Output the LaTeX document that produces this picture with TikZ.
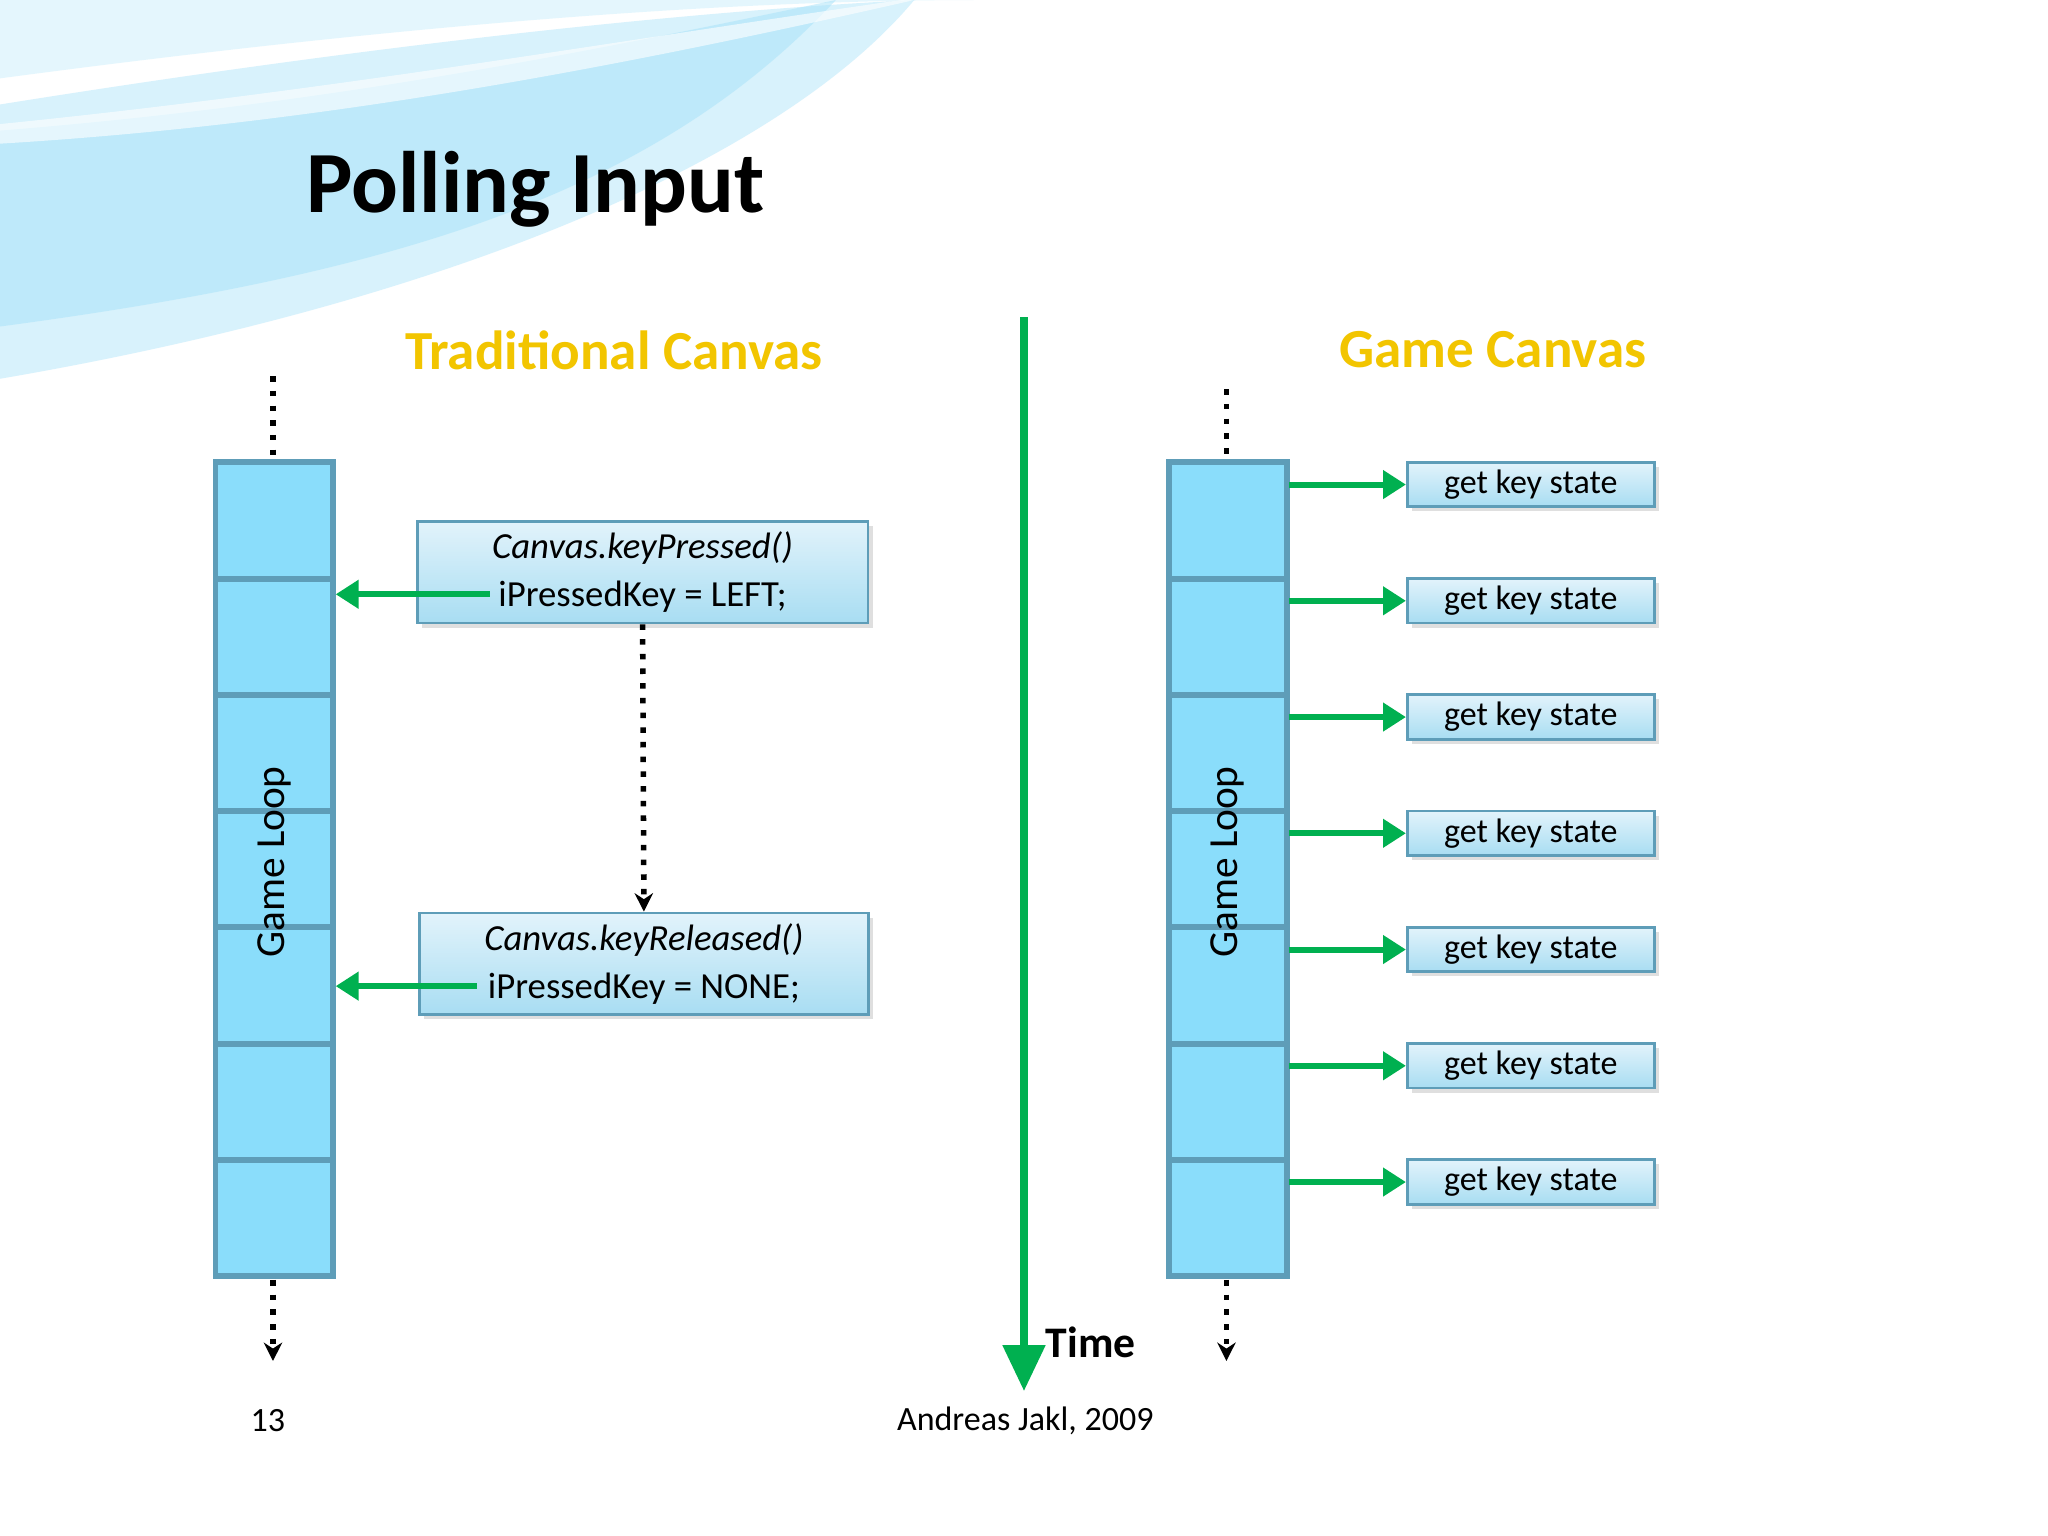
\documentclass[tikz,border=0pt]{standalone}
\usepackage{fontspec}
\setmainfont{Carlito}
\usetikzlibrary{arrows.meta,shadows}
\definecolor{cellfill}{HTML}{8ADDFB}
\definecolor{cellline}{HTML}{5E9DB8}
\definecolor{grn}{HTML}{00B050}
\definecolor{boxtop}{HTML}{E2F3FB}
\definecolor{boxbot}{HTML}{A8DDF2}
\definecolor{gold}{HTML}{F2C500}
\tikzset{
  cell/.style={draw=cellline,line width=1.3pt,fill=cellfill},
  codebox/.style={draw=cellline,line width=0.6pt,top color=boxtop,bottom color=boxbot,drop shadow={opacity=0.25,shadow xshift=1pt,shadow yshift=-1pt}},
  garrow/.style={draw=grn,line width=1.3pt,-{Triangle[length=5pt,width=6pt]}},
  dotarrow/.style={draw=black,line width=1.2pt,dotted,-{Stealth[length=4pt,width=4pt]}},
  dotline/.style={draw=black,line width=1.2pt,dotted},
  heading/.style={font=\bfseries\fontsize{12}{14}\selectfont,text=gold,drop shadow={opacity=0}},
  txt/.style={font=\fontsize{7.4}{9}\selectfont}
}
\begin{document}
\begin{tikzpicture}[x=0.01cm,y=-0.01cm]
\useasboundingbox (0,0) rectangle (1568,1176);
\fill[white] (0,0) rectangle (1568,1176);
% swoosh background
\fill[cyan!15,opacity=0.7] (0,60) .. controls (300,20) and (550,0) .. (750,0) -- (0,0) -- cycle;
\fill[cyan!25,opacity=0.6] (0,80) .. controls (250,40) and (500,10) .. (700,0) .. controls (600,120) and (350,230) .. (0,290) -- cycle;
\fill[cyan!35,opacity=0.5] (0,100) .. controls (250,80) and (450,40) .. (640,0) .. controls (500,150) and (300,210) .. (0,250) -- cycle;
\fill[white,opacity=0.6] (0,95) .. controls (250,70) and (480,30) .. (690,0) -- (700,0) .. controls (480,50) and (250,95) .. (0,110) -- cycle;
\node[font=\bfseries\fontsize{19}{22}\selectfont] (title) at (410,145) {Polling Input};
\node[heading] (h1) at (470,268) {Traditional Canvas};
\node[heading] (h2) at (1143,268) {Game Canvas};
% left column
\foreach \i in {0,...,6}{
  \draw[cell] (165,{354+89*\i}) rectangle (255,{443+89*\i});
  \draw[cell] (895,{354+89*\i}) rectangle (985,{443+89*\i});
}
\node[txt,font=\fontsize{9}{11}\selectfont,rotate=90] (gl1) at (210,660) {Game Loop};
\node[txt,font=\fontsize{9}{11}\selectfont,rotate=90] (gl2) at (940,660) {Game Loop};
\coordinate (t1a) at (209,288); \coordinate (t1b) at (209,352);
\coordinate (b1a) at (209,980); \coordinate (b1b) at (209,1042);
\coordinate (t2a) at (939,298); \coordinate (t2b) at (939,352);
\coordinate (b2a) at (939,980); \coordinate (b2b) at (939,1042);
\draw[dotline] (t1a)--(t1b); \draw[dotarrow] (b1a)--(b1b);
\draw[dotline] (t2a)--(t2b); \draw[dotarrow] (b2a)--(b2b);
% code boxes
\node[codebox,minimum width=345*0.01cm,minimum height=78*0.01cm,inner sep=0pt,align=center,txt,font=\fontsize{8}{10.5}\selectfont] (kp) at (492,438) {\textit{Canvas.keyPressed()}\\iPressedKey = LEFT;};
\node[codebox,minimum width=344*0.01cm,minimum height=78*0.01cm,inner sep=0pt,align=center,txt,font=\fontsize{8}{10.5}\selectfont] (kr) at (493,738) {\textit{Canvas.keyReleased()}\\iPressedKey = NONE;};
\coordinate (l1) at (257,455); \coordinate (s1) at (375,455);
\coordinate (l2) at (257,755); \coordinate (s2) at (365,755);
\draw[garrow] (s1)--(l1);
\draw[garrow] (s2)--(l2);
\draw[dotarrow] (kp.south)--(kr.north);
% time
\coordinate (ta) at (784,243); \coordinate (tb) at (784,1065);
\draw[draw=grn,line width=1.6pt,-{Triangle[length=10pt,width=9pt]}] (ta)--(tb);
\node[font=\bfseries\fontsize{9.5}{11}\selectfont] (time) at (835,1028) {Time};
% right
\foreach \i in {0,...,6}{
  \node[codebox,minimum width=189*0.01cm,minimum height=34*0.01cm,inner sep=0pt,txt] (g\i) at (1172,{371+89*\i}) {get key state};
  \coordinate (r\i) at (987,{371+89*\i});
  \draw[garrow] (r\i)--(g\i.west);
}
\node[txt] (pg) at (205,1088) {13};
\node[txt] (auth) at (785,1088) {Andreas Jakl, 2009};
\end{tikzpicture}
\end{document}
